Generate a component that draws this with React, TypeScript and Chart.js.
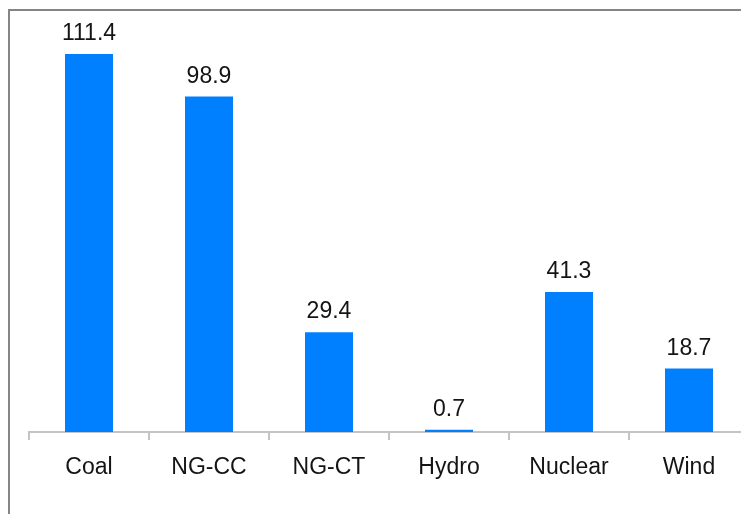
import React, { useEffect, useRef } from "react";
import { Chart, registerables } from "chart.js";

Chart.register(...registerables);

const categories = ["Coal", "NG-CC", "NG-CT", "Hydro", "Nuclear", "Wind"];
const values = [111.4, 98.9, 29.4, 0.7, 41.3, 18.7];

const FONT = "'Liberation Sans', Arial, sans-serif";

const valueLabels = {
  id: "valueLabels",
  afterDatasetsDraw(chart: any) {
    const ctx = chart.ctx;
    const meta = chart.getDatasetMeta(0);
    ctx.save();
    ctx.font = `23px ${FONT}`;
    ctx.fillStyle = "#141414";
    ctx.textAlign = "center";
    ctx.textBaseline = "alphabetic";
    meta.data.forEach((bar: any, i: number) => {
      ctx.fillText(values[i].toFixed(1), bar.x, bar.y - 14);
    });
    ctx.restore();
  },
};

export default function App() {
  const ref = useRef<HTMLCanvasElement>(null);
  useEffect(() => {
    if (!ref.current) return;
    const chart = new Chart(ref.current, {
      type: "bar",
      data: {
        labels: categories,
        datasets: [
          {
            data: values,
            backgroundColor: "#0080ff",
            borderWidth: 0,
            categoryPercentage: 1,
            barPercentage: 0.4,
          },
        ],
      },
      options: {
        responsive: false,
        animation: false,
        layout: { padding: { left: 29, right: 11, top: 10, bottom: 0 } },
        plugins: { legend: { display: false }, tooltip: { enabled: false } },
        scales: {
          x: {
            offset: true,
            grid: {
              offset: true,
              drawOnChartArea: false,
              drawTicks: true,
              tickLength: 8,
              color: "#c4c4c4",
              lineWidth: 2,
            },
            border: { color: "#c4c4c4", width: 2 },
            ticks: {
              font: { family: FONT, size: 23 },
              color: "#141414",
              padding: 14,
              maxRotation: 0,
            },
            afterFit(scale: any) {
              scale.height = 82;
            },
          },
          y: {
            display: false,
            min: 0,
            max: 124.4,
          },
        },
      },
      plugins: [valueLabels],
    });
    return () => chart.destroy();
  }, []);

  return (
    <div
      style={{
        position: "absolute",
        left: 0,
        top: 0,
        width: 741,
        height: 514,
        overflow: "hidden",
        background: "#fff",
      }}
    >
      <canvas ref={ref} width={760} height={514} style={{ position: "absolute", left: 0, top: 0 }} />
      <div
        style={{
          position: "absolute",
          left: 8,
          top: 9,
          width: 800,
          height: 600,
          borderLeft: "2px solid #858585",
          borderTop: "2px solid #858585",
          pointerEvents: "none",
        }}
      />
    </div>
  );
}
